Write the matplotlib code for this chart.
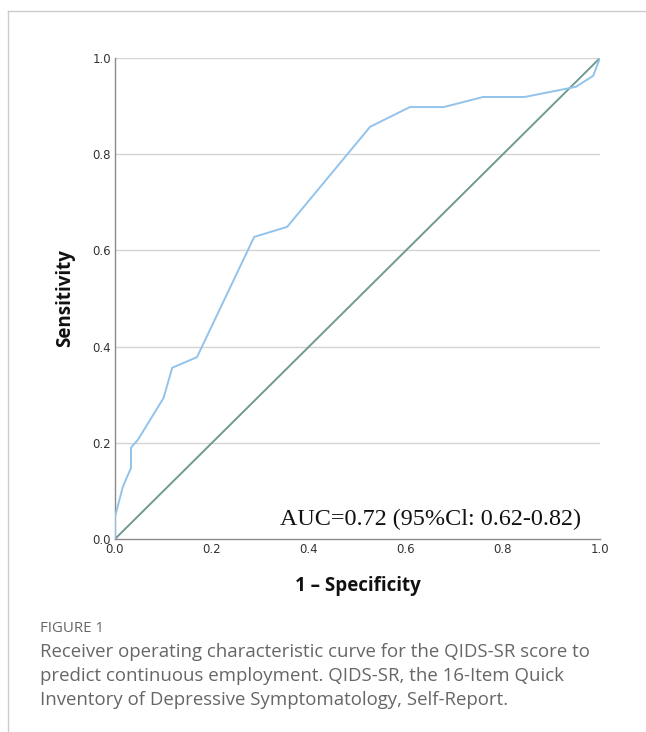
import matplotlib.pyplot as plt
from matplotlib.lines import Line2D

# ROC curve
fpr = [0.0, 0.0, 0.016, 0.033, 0.033, 0.047, 0.10, 0.118, 0.169, 0.287,
       0.355, 0.526, 0.608, 0.678, 0.759, 0.845, 0.95, 0.986, 1.0]
tpr = [0.0, 0.046, 0.108, 0.148, 0.19, 0.206, 0.293, 0.356, 0.378, 0.628,
       0.649, 0.857, 0.898, 0.898, 0.919, 0.919, 0.94, 0.963, 1.0]
ticks = [0.0, 0.2, 0.4, 0.6, 0.8, 1.0]
tick_labels = ['0.0', '0.2', '0.4', '0.6', '0.8', '1.0']

auc_text = 'AUC=0.72 (95%Cl: 0.62-0.82)'
caption_head = 'FIGURE 1'
caption_lines = [
    'Receiver operating characteristic curve for the QIDS-SR score to',
    'predict continuous employment. QIDS-SR, the 16-Item Quick',
    'Inventory of Depressive Symptomatology, Self-Report.',
]

W, H = 646, 732
fig = plt.figure(figsize=(W / 100, H / 100), dpi=100)
fig.patch.set_facecolor('white')

# card border (top and left)
fig.add_artist(Line2D([8 / W, 1], [1 - 11 / H, 1 - 11 / H], color='#cccccc', lw=1))
fig.add_artist(Line2D([8 / W, 8 / W], [0, 1 - 11 / H], color='#cccccc', lw=1))

ax = fig.add_axes([115 / W, 1 - 539 / H, 485 / W, 481 / H])
ax.set_xlim(0, 1)
ax.set_ylim(0, 1)

for t in ticks[1:]:
    ax.axhline(t, color='#d4d4d4', lw=1, zorder=0)

ax.plot([0, 1], [0, 1], color='#6f9a90', lw=1.4, zorder=2)
ax.plot(fpr, tpr, color='#92c3ec', lw=1.4, zorder=3)

for s in ['top', 'right']:
    ax.spines[s].set_visible(False)
for s in ['left', 'bottom']:
    ax.spines[s].set_color('#8a8a8a')
    ax.spines[s].set_linewidth(1)

ax.set_xticks(ticks)
ax.set_xticklabels(tick_labels)
ax.set_yticks(ticks)
ax.set_yticklabels(tick_labels)
ax.tick_params(length=0, pad=3, labelsize=8.5, colors='#333333')
for lab in ax.get_xticklabels() + ax.get_yticklabels():
    lab.set_family('DejaVu Sans')

ax.set_xlabel('1 \u2013 Specificity', fontsize=13.5, fontweight='bold', labelpad=14,
              family='Open Sans', color='#111111')
ax.set_ylabel('Sensitivity', fontsize=13.5, fontweight='bold', labelpad=12,
              family='Open Sans', color='#111111')

ax.text(0.65, 0.04, auc_text, fontsize=17.4, family='Liberation Serif',
        ha='center', va='center', color='#111111')

fig.text(40 / W, 1 - 629 / H, caption_head, fontsize=10.8, color='#666666',
         family='Open Sans', va='center')
for i, line in enumerate(caption_lines):
    fig.text(40 / W, 1 - (652 + 24 * i) / H, line, fontsize=13.4, color='#666666',
             family='Open Sans', va='center')

fig.savefig('out.png', dpi=100, facecolor='white')
